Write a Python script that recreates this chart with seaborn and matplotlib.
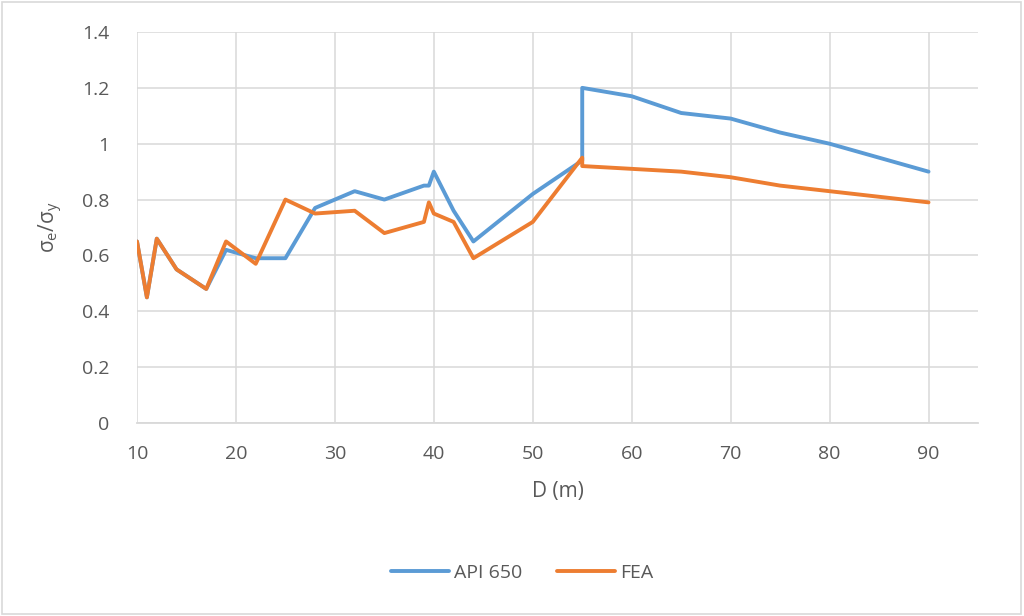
import matplotlib
matplotlib.use("Agg")
import matplotlib.pyplot as plt
import seaborn as sns
import pandas as pd
from matplotlib.patches import Rectangle

# Data
d_api = [10, 11, 12, 14, 17, 19, 22, 25, 28, 32, 35, 39, 39.5, 40, 42, 44, 50, 55, 55, 60, 65, 70, 75, 80, 90]
api650 = [0.65, 0.45, 0.66, 0.55, 0.48, 0.62, 0.59, 0.59, 0.77, 0.83, 0.80, 0.85, 0.85, 0.90, 0.76, 0.65, 0.82, 0.94, 1.20, 1.17, 1.11, 1.09, 1.04, 1.00, 0.90]
d_fea = [10, 11, 12, 14, 17, 19, 22, 25, 28, 32, 35, 39, 39.5, 40, 42, 44, 50, 55, 55, 60, 65, 70, 75, 80, 90]
fea = [0.65, 0.45, 0.66, 0.55, 0.48, 0.65, 0.57, 0.80, 0.75, 0.76, 0.68, 0.72, 0.79, 0.75, 0.72, 0.59, 0.72, 0.95, 0.92, 0.91, 0.90, 0.88, 0.85, 0.83, 0.79]
series_names = ["API 650", "FEA"]
x_ticks = [10, 20, 30, 40, 50, 60, 70, 80, 90]
y_ticks = [0, 0.2, 0.4, 0.6, 0.8, 1.0, 1.2, 1.4]
y_tick_labels = ["0", "0.2", "0.4", "0.6", "0.8", "1", "1.2", "1.4"]

df = pd.concat([
    pd.DataFrame({"D": d_api, "ratio": api650, "series": series_names[0]}),
    pd.DataFrame({"D": d_fea, "ratio": fea, "series": series_names[1]}),
], ignore_index=True)

sns.set_theme(style="white")
plt.rcParams["font.family"] = ["Open Sans", "DejaVu Sans"]
plt.rcParams["mathtext.fontset"] = "custom"
plt.rcParams["mathtext.rm"] = "Open Sans"
plt.rcParams["mathtext.it"] = "Open Sans:italic"

text_color = "#595959"
grid_color = "#D9D9D9"
colors = ["#5B9BD5", "#ED7D31"]

fig = plt.figure(figsize=(10.24, 6.16), dpi=100)
ax = fig.add_axes([137 / 1024, 1 - 423 / 616, (978 - 137) / 1024, (423 - 32) / 616])

for name, color in zip(series_names, colors):
    sub = df[df["series"] == name]
    sns.lineplot(data=sub, x="D", y="ratio", sort=False, estimator=None, color=color,
                 linewidth=2.8, ax=ax, label=name, legend=False,
                 solid_capstyle="round", solid_joinstyle="round")

ax.set_xlim(10, 95)
ax.set_ylim(0, 1.4)
ax.set_xticks(x_ticks)
ax.set_yticks(y_ticks)
ax.set_yticklabels(y_tick_labels)
ax.grid(True, color=grid_color, linewidth=1.1)
ax.set_axisbelow(True)
for s in ["top", "right", "left"]:
    ax.spines[s].set_visible(False)
ax.spines["bottom"].set_color(grid_color)
ax.spines["bottom"].set_linewidth(1.3)
ax.tick_params(axis="both", length=0, labelsize=14, colors=text_color)
ax.tick_params(axis="y", pad=20)
ax.tick_params(axis="x", pad=16)

ax.set_xlabel("D (m)", fontsize=15, color=text_color, labelpad=13)
ax.set_ylabel(r"σ$_\mathregular{e}$/σ$_\mathregular{y}$", fontsize=15, color=text_color, labelpad=12)

handles = ax.get_lines()
fig.legend(handles, series_names, loc="center", bbox_to_anchor=(522 / 1024, 1 - 573 / 616),
           ncol=2, frameon=False, fontsize=14, handlelength=3.0, columnspacing=1.8,
           handletextpad=0.25, labelcolor=text_color)

fig.patches.append(Rectangle((0.002, 0.003), 0.995, 0.993, transform=fig.transFigure,
                             fill=False, edgecolor=grid_color, linewidth=1.2))

fig.savefig("out.png", dpi=100, facecolor="white")
